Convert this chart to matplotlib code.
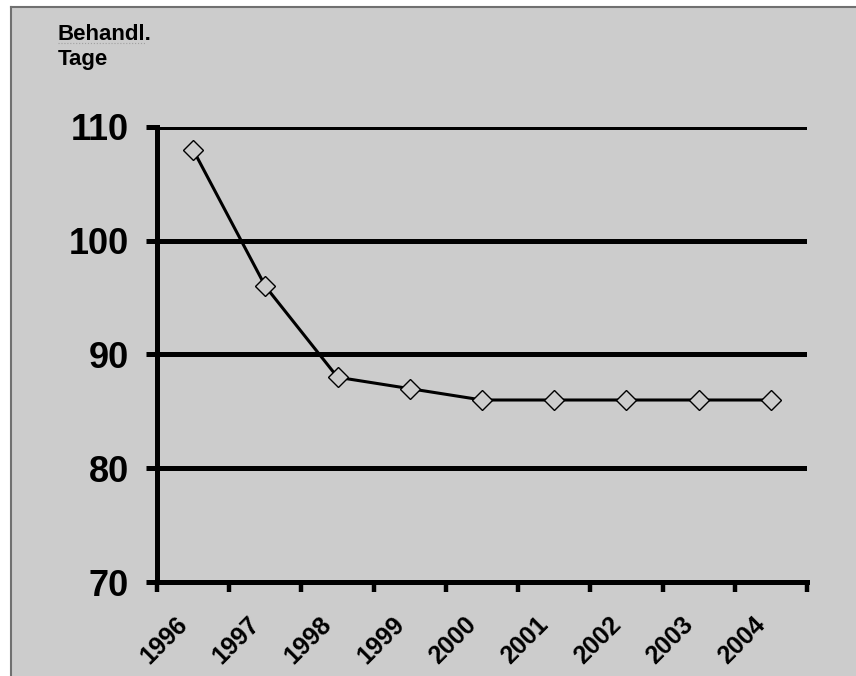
import matplotlib
matplotlib.use("Agg")
import matplotlib.pyplot as plt
import matplotlib.transforms as mtransforms

# Daten
jahre = ["1996", "1997", "1998", "1999", "2000", "2001", "2002", "2003", "2004"]
tage = [108, 96, 88, 87, 86, 86, 86, 86, 86]
y_ticks = [70, 80, 90, 100, 110]
grid_werte = [80, 90, 100, 110]

plt.rcParams['font.family'] = ['Liberation Sans', 'DejaVu Sans']
plt.rcParams['font.weight'] = 'bold'

bg = '#cccccc'
fig = plt.figure(figsize=(8.56, 6.76), dpi=100)
fig.patch.set_facecolor('white')

# grauer Hintergrund mit Rahmen oben/links
rect = plt.Rectangle((11/856, 0), 1, 1 - 7/676, transform=fig.transFigure,
                     facecolor=bg, edgecolor='none', zorder=-10)
fig.add_artist(rect)
fig.add_artist(plt.Line2D([11/856, 11/856], [0, 1 - 7/676], color='#707070', lw=1.5, zorder=-5))
fig.add_artist(plt.Line2D([11/856, 1], [1 - 7/676, 1 - 7/676], color='#707070', lw=1.5, zorder=-5))

ax = fig.add_axes([157/856, 1 - 582/676, 650/856, 455/676])
ax.set_zorder(1)
ax.set_facecolor(bg)

x = list(range(len(jahre)))
ax.plot(x, tage, color='black', lw=2.2, marker='D', markersize=10,
        markerfacecolor=bg, markeredgecolor='black', markeredgewidth=1.0, zorder=5)

for g in grid_werte:
    ax.axhline(g, color='black', lw=3.6, zorder=2, solid_capstyle='butt')

ax.set_xlim(-0.5, len(jahre) - 0.5)
ax.set_ylim(70, 110)
ax.set_yticks(y_ticks)
ax.tick_params(axis='y', length=8, width=3.6, pad=12, labelsize=26)

# Teilstriche an den Grenzen, Beschriftung in der Mitte
ax.set_xticks([i - 0.5 for i in range(len(jahre) + 1)])
ax.set_xticklabels([])
ax.tick_params(axis='x', which='major', length=7, width=3.2)
ax.set_xticks(x, labels=jahre, minor=True)
ax.tick_params(axis='x', which='minor', length=0, pad=22, labelsize=18)
offset = mtransforms.ScaledTranslation(-1/100, 0, fig.dpi_scale_trans)
for lab in ax.get_xticklabels(minor=True):
    lab.set_rotation(45)
    lab.set_ha('right')
    lab.set_va('top')
    lab.set_transform(lab.get_transform() + offset)

for s in ['top', 'right']:
    ax.spines[s].set_visible(False)
for s in ['left', 'bottom']:
    ax.spines[s].set_linewidth(3.6)

fig.text(58/856, 1 - 40/676, "Behandl.", fontsize=16, fontweight='bold', va='baseline')
fig.text(58/856, 1 - 65/676, "Tage", fontsize=16, fontweight='bold', va='baseline')
fig.add_artist(plt.Line2D([58/856, 146/856], [1 - 43/676, 1 - 43/676],
                          color='#a0a0a0', lw=0.8, ls=':'))

fig.savefig("out.png", dpi=100, facecolor=fig.get_facecolor())
